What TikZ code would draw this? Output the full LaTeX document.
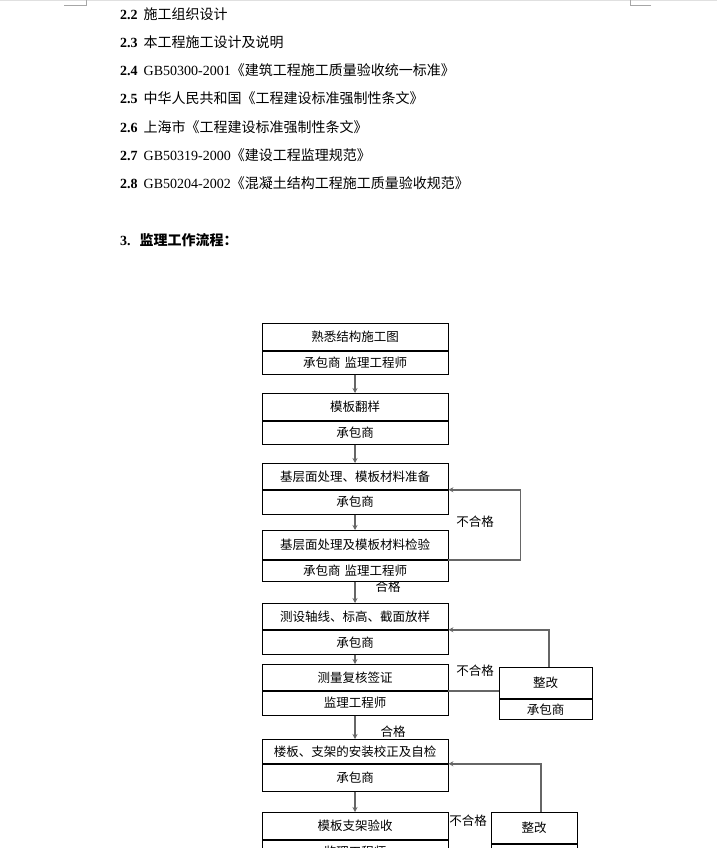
\documentclass[tikz,border=0pt]{standalone}
\usepackage{fontspec}
\setmainfont{Noto Sans CJK SC}
\newfontfamily\tnr{Liberation Serif}
\usetikzlibrary{arrows.meta}
\begin{document}
\begin{tikzpicture}[x=1pt,y=-1pt,
  hd/.style={anchor=base west,inner sep=0pt,font=\fontsize{14}{16}\selectfont},
  cell/.style={draw=black,line width=0.8pt,fill=white,minimum width=186pt,inner sep=0pt,anchor=north,font=\fontsize{12.5}{14}\selectfont},
  fixcell/.style={draw=black,line width=0.8pt,fill=white,inner sep=0pt,anchor=north,font=\fontsize{12.5}{14}\selectfont},
  lbl/.style={inner sep=0pt,font=\fontsize{12.5}{14}\selectfont},
  arr/.style={draw=black!60,line width=1.5pt,-{Stealth[length=5pt,width=5pt]}},
  ln/.style={draw=black!60,line width=1.5pt},
  pagemark/.style={draw=black!35,line width=0.8pt}]
\useasboundingbox (0,0) rectangle (717,848);
\clip (0,0) rectangle (717,848);
\fill[white] (0,0) rectangle (717,848);
% page marks
\draw[draw=black!12,line width=1pt] (0,0.5) -- (717,0.5);
\coordinate (ml1) at (64,5); \coordinate (ml2) at (86,5); \coordinate (ml3) at (86,0);
\draw[pagemark] (ml1) -- (ml2) -- (ml3);
\coordinate (mr1) at (651,5); \coordinate (mr2) at (630,5); \coordinate (mr3) at (630,0);
\draw[pagemark] (mr1) -- (mr2) -- (mr3);
% heading text
\node[hd] (t22) at (120,20) {{\tnr\bfseries 2.2}\hspace{6pt}施工组织设计};
\node[hd] (t23) at (120,48) {{\tnr\bfseries 2.3}\hspace{6pt}本工程施工设计及说明};
\node[hd] (t24) at (120,76) {{\tnr\bfseries 2.4}\hspace{6pt}{\tnr GB50300-2001}《建筑工程施工质量验收统一标准》};
\node[hd] (t25) at (120,104) {{\tnr\bfseries 2.5}\hspace{6pt}中华人民共和国《工程建设标准强制性条文》};
\node[hd] (t26) at (120,132) {{\tnr\bfseries 2.6}\hspace{6pt}上海市《工程建设标准强制性条文》};
\node[hd] (t27) at (120,160) {{\tnr\bfseries 2.7}\hspace{6pt}{\tnr GB50319-2000}《建设工程监理规范》};
\node[hd] (t28) at (120,188) {{\tnr\bfseries 2.8}\hspace{6pt}{\tnr GB50204-2002}《混凝土结构工程施工质量验收规范》};
\node[hd] (t3) at (120,245) {{\tnr\bfseries 3.}\hspace{9pt}\bfseries 监理工作流程：};
% labels drawn first (partly covered by boxes)
\node[lbl] (ok1) at (388,587) {合格};
\node[lbl] (ng1) at (475,522) {不合格};
\node[lbl] (ng2) at (475,671) {不合格};
\node[lbl] (ok2) at (393,732) {合格};
\node[lbl] (ng3) at (468,821) {不合格};
% boxes
\node[cell,minimum height=27pt] (b1t) at (355,323) {熟悉结构施工图};
\node[cell,minimum height=23pt] (b1b) at (b1t.south) {承包商\hspace{4pt}监理工程师};
\node[cell,minimum height=27pt] (b2t) at (355,393) {模板翻样};
\node[cell,minimum height=23pt] (b2b) at (b2t.south) {承包商};
\node[cell,minimum height=26pt] (b3t) at (355,463) {基层面处理、模板材料准备};
\node[cell,minimum height=24pt] (b3b) at (b3t.south) {承包商};
\node[cell,minimum height=29pt] (b4t) at (355,530) {基层面处理及模板材料检验};
\node[cell,minimum height=21pt] (b4b) at (b4t.south) {承包商\hspace{4pt}监理工程师};
\node[cell,minimum height=26pt] (b5t) at (355,603) {测设轴线、标高、截面放样};
\node[cell,minimum height=24pt] (b5b) at (b5t.south) {承包商};
\node[cell,minimum height=26pt] (b6t) at (355,664) {测量复核签证};
\node[cell,minimum height=24pt] (b6b) at (b6t.south) {监理工程师};
\node[cell,minimum height=24pt] (b7t) at (355,739) {\raisebox{-5pt}{楼板、支架的安装校正及自检}};
\node[cell,minimum height=27pt] (b7b) at (b7t.south) {承包商};
\node[cell,minimum height=27pt] (b8t) at (355,812) {模板支架验收};
\node[cell,minimum height=24pt] (b8b) at (b8t.south) {监理工程师};
\node[fixcell,minimum width=93pt,minimum height=31pt] (f1t) at (545.5,667) {整改};
\node[fixcell,minimum width=93pt,minimum height=20pt] (f1b) at (f1t.south) {承包商};
\node[fixcell,minimum width=86pt,minimum height=31pt] (f2t) at (534,812) {整改};
\node[fixcell,minimum width=86pt,minimum height=20pt] (f2b) at (f2t.south) {承包商};
% main arrows
\draw[arr] (b1b.south) -- (b2t.north);
\draw[arr] (b2b.south) -- (b3t.north);
\draw[arr] (b3b.south) -- (b4t.north);
\draw[arr] (b4b.south) -- (b5t.north);
\draw[arr] (b5b.south) -- (b6t.north);
\draw[arr] (b6b.south) -- (b7t.north);
\draw[arr] (b7b.south) -- (b8t.north);
% loops
\draw[arr] (b4t.south east) -- ++(72,0) |- (b3t.south east);
\draw[ln] (b6t.south east) -- (b6t.south east -| f1t.west);
\draw[arr] ([xshift=3.5pt]f1t.north) |- (b5t.south east);
\draw[arr] ([xshift=7pt]f2t.north) |- (b7t.south east);
\end{tikzpicture}
\end{document}
